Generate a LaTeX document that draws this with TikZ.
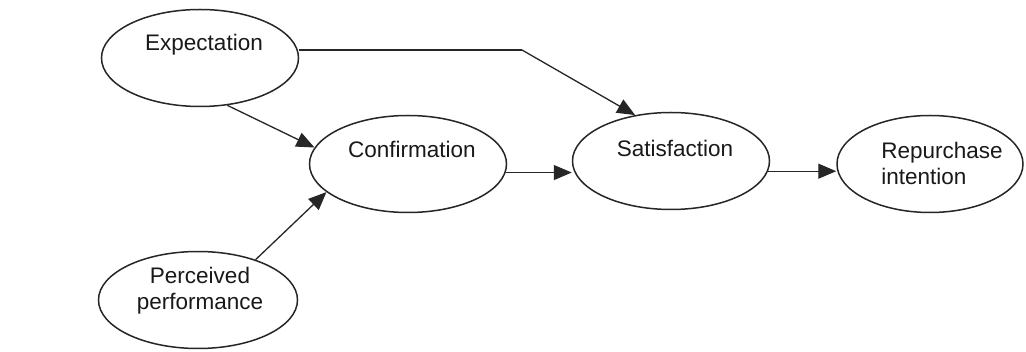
\documentclass[tikz,border=0pt]{standalone}
\usepackage{fontspec}
\setmainfont{Liberation Sans}
\usetikzlibrary{shapes.geometric,arrows.meta}
\begin{document}
\begin{tikzpicture}[x=1pt,y=-1pt,
  oval/.style={draw=black!85,line width=1.5pt,ellipse,minimum width=197pt,minimum height=97pt,inner sep=0pt},
  lbl/.style={font=\fontsize{22.5}{26}\selectfont,text=black!90,inner sep=0pt},
  arr/.style={draw=black!85,line width=1.3pt,-{Triangle[length=18pt,width=15pt]}}]
\useasboundingbox[fill=white] (0,0) rectangle (1026,352);
\node[oval] (exp) at (200,58) {};
\node[oval] (conf) at (408,164) {};
\node[oval] (sat) at (671,161) {};
\node[oval,minimum width=186pt] (rep) at (930,164) {};
\node[oval,minimum width=199pt] (perc) at (198,300) {};
\node[lbl] (texp) at (204,45) {Expectation};
\node[lbl] (tconf) at (412,149) {Confirmation};
\node[lbl] (tsat) at (675,148) {Satisfaction};
\node[lbl,align=left] (trep) at (942,163) {Repurchase\\intention};
\node[lbl,align=center] (tperc) at (200,291) {Perceived\\performance};
\coordinate (bend) at (522,50);
\draw[draw=black!85,line width=1.3pt] (exp.east |- 0,50) -- (bend);
\draw[arr] (bend) -- (sat.128);
\draw[arr] (exp.-60) -- (conf.170);
\draw[arr] (perc.35) -- (conf.199);
\draw[arr] (conf.-5) -- (conf.-5 -| sat.west);
\draw[arr] (sat.-6) -- (sat.-6 -| rep.west);
\end{tikzpicture}
\end{document}
